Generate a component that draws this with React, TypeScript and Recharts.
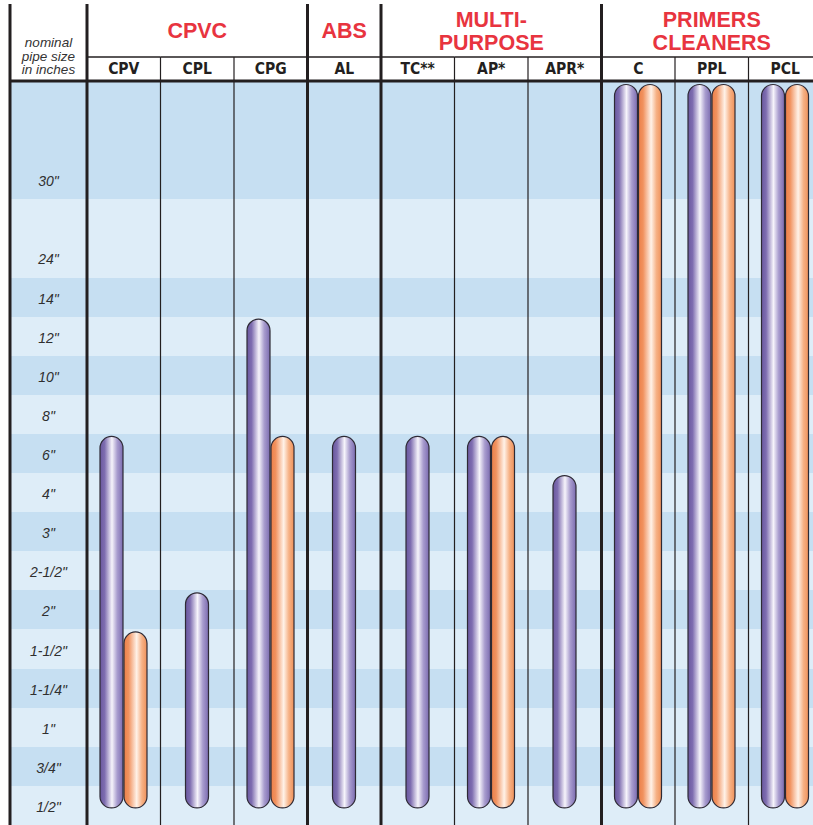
import React from "react";
import { BarChart, Bar, XAxis, YAxis, CartesianGrid } from "recharts";

// columns and groups
const products = ["CPV", "CPL", "CPG", "AL", "TC**", "AP*", "APR*", "C", "PPL", "PCL"];
const groupTitles = [["CPVC"], ["ABS"], ["MULTI-", "PURPOSE"], ["PRIMERS", "CLEANERS"]];
const groupSizes = [3, 1, 3, 3];

// pipe sizes, bottom to top; 24" and 30" take more than one row
const sizeLabels = ['1/2"', '3/4"', '1"', '1-1/4"', '1-1/2"', '2"', '2-1/2"', '3"', '4"', '6"', '8"', '10"', '12"', '14"', '24"', '30"'];
const sizeRows = [1, 1, 1, 1, 1, 1, 1, 1, 1, 1, 1, 1, 1, 1, 2, 3];

// largest pipe size per product (purple = cement, orange = second bar)
const purpleMax = ['6"', '2"', '12"', '6"', '6"', '6"', '4"', '30"', '30"', '30"'];
const orangeMax = ['1-1/2"', null, '6"', null, null, '6"', null, '30"', '30"', '30"'];

const sum = (a: number[]) => a.reduce((s, v) => s + v, 0);
const rowStart = sizeLabels.map((_, i) => sum(sizeRows.slice(0, i)));
const totalRows = sum(sizeRows);
const bandTop = (i: number) => rowStart[i] + sizeRows[i] - 0.5;
const topOf = (label: string) => bandTop(sizeLabels.indexOf(label));

const data = products.map((p, i) => ({
  product: p,
  purple: [rowStart[0], topOf(purpleMax[i] as string)],
  orange: orangeMax[i] ? [rowStart[0], topOf(orangeMax[i] as string)] : null,
}));

const groupStart = groupSizes.map((_, g) => sum(groupSizes.slice(0, g)));
const groupMiddle = groupStart.map((s, g) => s + Math.floor(groupSizes[g] / 2));
const stripeValues = sizeLabels.map((_, i) => bandTop(i));

const CHART_W = 822;
const CHART_H = 825;
const LEFT = 10;
const YAXIS_W = 77;
const HEADER_H = 82;
const BAR_W = 23;
const BAR_GAP = 1;
const COL_W = (CHART_W - LEFT - YAXIS_W) / products.length;
const FONT = "'Liberation Sans', Arial, Helvetica, sans-serif";
const COND = "'DejaVu Sans Condensed', 'Liberation Sans', Arial, sans-serif";
const INK = "#231f20";
const RED = "#e8343f";

function pill(props: any, grad: string, shift: number) {
  const { x, y, width, height } = props;
  if (x == null || !height) return null;
  const top = Math.min(y, y + height) + 2.5;
  const h = Math.abs(height);
  const r = width / 2;
  return (
    <rect x={x + shift} y={top} width={width} height={h} rx={r} ry={r}
      fill={`url(#${grad})`} stroke="#2e2a35" strokeWidth={1.2} />
  );
}

function ProductTick(props: any) {
  const { x, y, payload, index } = props;
  const half = payload.offset || COL_W / 2;
  const left = x - half;
  const right = x + half;
  const isStart = groupStart.includes(index);
  const g = groupMiddle.indexOf(index);
  const title = g >= 0 ? groupTitles[g] : null;
  return (
    <g>
      {index === 0 && (
        <g>
          <line x1={left - YAXIS_W} x2={left - YAXIS_W} y1={y - 78} y2={y + 800} stroke={INK} strokeWidth={3} />
          <line x1={left - YAXIS_W} x2={left} y1={y - 1} y2={y - 1} stroke={INK} strokeWidth={3} />
          {["nominal", "pipe size", "in inches"].map((t, k) => (
            <text key={t} x={left - YAXIS_W / 2} y={y - 35 + k * 13.5} textAnchor="middle"
              fontFamily={FONT} fontStyle="italic" fontSize={13.5} fill="#333">{t}</text>
          ))}
        </g>
      )}
      <line x1={left} x2={left} y1={isStart ? y - 78 : y - 25} y2={y + 800} stroke={INK} strokeWidth={isStart ? 3 : 1.2} />
      <line x1={left} x2={right} y1={y - 25} y2={y - 25} stroke={INK} strokeWidth={1.4} />
      <line x1={left} x2={right} y1={y - 1} y2={y - 1} stroke={INK} strokeWidth={3} />
      <text x={x} y={y - 8} textAnchor="middle" fontFamily={COND} fontWeight="bold" fontSize={15.5} fill={INK}>
        {payload.value}
      </text>
      {title &&
        title.map((t, k) => (
          <text key={t} x={x} y={title.length === 1 ? y - 44 : y - 55 + k * 23} textAnchor="middle"
            fontFamily={FONT} fontWeight="bold" fontSize={21.5} fill={RED}>{t}</text>
        ))}
    </g>
  );
}

function SizeTick(props: any) {
  const { x, y, payload } = props;
  const i = rowStart.indexOf(payload.value);
  return (
    <text x={x - YAXIS_W / 2} y={y + 6.5} textAnchor="middle" fontFamily={FONT}
      fontStyle="italic" fontSize={14} fill="#2f2f2f">{sizeLabels[i]}</text>
  );
}

export default function App() {
  return (
    <div style={{ position: "absolute", left: 0, top: 0, width: 813, height: 825, overflow: "hidden", background: "#fff" }}>
      <BarChart width={CHART_W} height={CHART_H} data={data} barGap={BAR_GAP}
        margin={{ top: 0, right: 0, bottom: 0, left: LEFT }}>
        <defs>
          <linearGradient id="purpleGrad" x1="0" y1="0" x2="1" y2="0">
            <stop offset="0" stopColor="#6a589f" />
            <stop offset="0.2" stopColor="#7e6db0" />
            <stop offset="0.52" stopColor="#f6f4fb" />
            <stop offset="0.75" stopColor="#a89cce" />
            <stop offset="1" stopColor="#7b6bb0" />
          </linearGradient>
          <linearGradient id="orangeGrad" x1="0" y1="0" x2="1" y2="0">
            <stop offset="0" stopColor="#ec8049" />
            <stop offset="0.2" stopColor="#f1925f" />
            <stop offset="0.55" stopColor="#fff2e8" />
            <stop offset="0.78" stopColor="#f6b185" />
            <stop offset="1" stopColor="#ef915a" />
          </linearGradient>
        </defs>
        <CartesianGrid x={LEFT} width={CHART_W - LEFT} vertical={false} stroke="none"
          horizontalValues={stripeValues} horizontalFill={["#c6dff2", "#deedf8"]} />
        <XAxis dataKey="product" orientation="top" height={HEADER_H} interval={0}
          axisLine={false} tickLine={false} tickSize={0} tickMargin={0} tick={<ProductTick />} />
        <YAxis type="number" width={YAXIS_W} domain={[-0.5, totalRows - 0.5]} allowDataOverflow
          ticks={rowStart} interval={0} axisLine={false} tickLine={false} tickSize={0} tickMargin={0}
          tick={<SizeTick />} />
        <Bar dataKey="purple" barSize={BAR_W} isAnimationActive={false}
          shape={(p: any) => pill(p, "purpleGrad", p.payload && !p.payload.orange ? (BAR_W + BAR_GAP) / 2 : 0)} />
        <Bar dataKey="orange" barSize={BAR_W} isAnimationActive={false}
          shape={(p: any) => (p.payload && p.payload.orange ? pill(p, "orangeGrad", 0) : null)} />
      </BarChart>
    </div>
  );
}
